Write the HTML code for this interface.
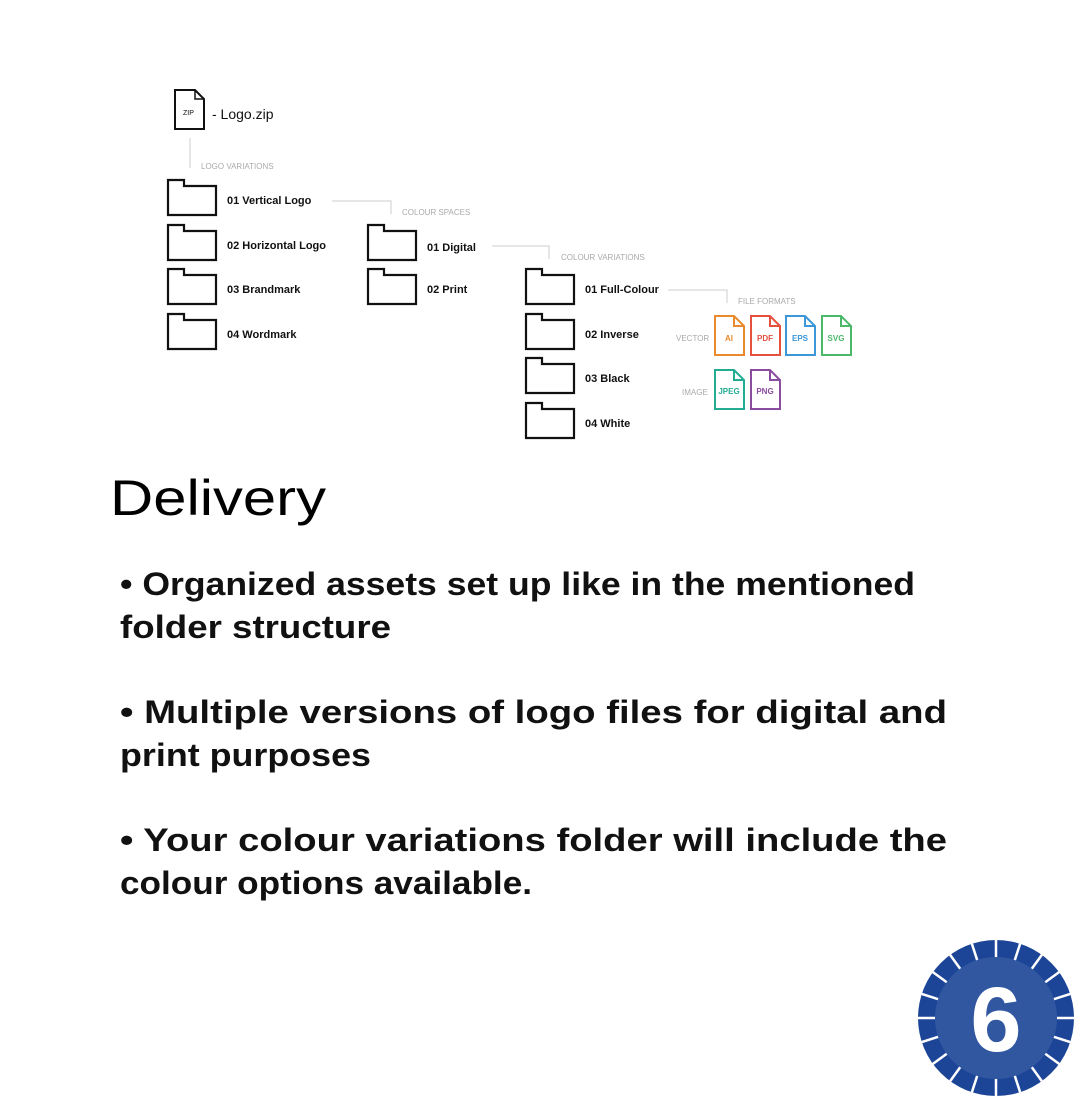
<!DOCTYPE html>
<html><head><meta charset="utf-8"><style>
html,body{margin:0;padding:0;background:#fff;}
svg{display:block}
</style></head><body>
<svg width="1075" height="1097" viewBox="0 0 1075 1097" xmlns="http://www.w3.org/2000/svg" font-family="Liberation Sans, sans-serif">
<defs>
<path id="fold" d="M0,0 H16 V6 H48 V35 H0 Z" fill="#fff" stroke="#111" stroke-width="2.2"/>
</defs>
<path d="M175,90 H195 L204,99 V129 H175 Z" fill="#fff" stroke="#111" stroke-width="2"/>
<path d="M195,90 V99 H204" fill="none" stroke="#111" stroke-width="1.5"/>
<text x="183" y="115" font-size="7" fill="#111">ZIP</text>
<text x="212" y="119" font-size="14" fill="#111">- Logo.zip</text>
<line x1="190" y1="138" x2="190" y2="168" stroke="#ccc" stroke-width="1"/>
<text x="201" y="169" font-size="8" fill="#aaa">LOGO VARIATIONS</text>
<use href="#fold" x="168" y="180"/><use href="#fold" x="168" y="225"/><use href="#fold" x="168" y="269"/><use href="#fold" x="168" y="314"/>
<g font-size="11" font-weight="bold" fill="#111">
<text x="227" y="204">01 Vertical Logo</text>
<text x="227" y="249">02 Horizontal Logo</text>
<text x="227" y="293">03 Brandmark</text>
<text x="227" y="338">04 Wordmark</text>
</g>
<path d="M332,201 H391 V214" fill="none" stroke="#ccc"/>
<text x="402" y="215" font-size="8" fill="#aaa">COLOUR SPACES</text>
<use href="#fold" x="368" y="225"/><use href="#fold" x="368" y="269"/>
<g font-size="11" font-weight="bold" fill="#111">
<text x="427" y="251">01 Digital</text>
<text x="427" y="293">02 Print</text>
</g>
<path d="M492,246 H549 V259" fill="none" stroke="#ccc"/>
<text x="561" y="260" font-size="8" fill="#aaa">COLOUR VARIATIONS</text>
<use href="#fold" x="526" y="269"/><use href="#fold" x="526" y="314"/><use href="#fold" x="526" y="358"/><use href="#fold" x="526" y="403"/>
<g font-size="11" font-weight="bold" fill="#111">
<text x="585" y="293">01 Full-Colour</text>
<text x="585" y="338">02 Inverse</text>
<text x="585" y="382">03 Black</text>
<text x="585" y="427">04 White</text>
</g>
<path d="M668,290 H727 V303" fill="none" stroke="#ccc"/>
<text x="738" y="304" font-size="8" fill="#aaa">FILE FORMATS</text>
<text x="676" y="341" font-size="8" fill="#aaa">VECTOR</text>
<text x="682" y="395" font-size="8" fill="#aaa">IMAGE</text>
<g stroke-width="2" fill="#fff" font-size="8" font-weight="bold" text-anchor="middle">
<g stroke="#e98a2c"><path d="M715,316 H734 L744,326 V355 H715 Z"/><path d="M734,316 V326 H744" fill="none"/></g>
<text x="729" y="341" fill="#e98a2c">AI</text>
<g stroke="#e5503f"><path d="M751,316 H770 L780,326 V355 H751 Z"/><path d="M770,316 V326 H780" fill="none"/></g>
<text x="765" y="341" fill="#e5503f">PDF</text>
<g stroke="#3c97d8"><path d="M786,316 H805 L815,326 V355 H786 Z"/><path d="M805,316 V326 H815" fill="none"/></g>
<text x="800" y="341" fill="#3c97d8">EPS</text>
<g stroke="#4cb86a"><path d="M822,316 H841 L851,326 V355 H822 Z"/><path d="M841,316 V326 H851" fill="none"/></g>
<text x="836" y="341" fill="#4cb86a">SVG</text>
<g stroke="#22ad93"><path d="M715,370 H734 L744,380 V409 H715 Z"/><path d="M734,370 V380 H744" fill="none"/></g>
<text x="729" y="394" fill="#22ad93">JPEG</text>
<g stroke="#8a4c9e"><path d="M751,370 H770 L780,380 V409 H751 Z"/><path d="M770,370 V380 H780" fill="none"/></g>
<text x="765" y="394" fill="#8a4c9e">PNG</text>
</g>
<text x="110" y="515" font-size="50" fill="#000" textLength="216" lengthAdjust="spacingAndGlyphs">Delivery</text>
<g font-size="32" font-weight="bold" fill="#111" lengthAdjust="spacingAndGlyphs">
<text x="120" y="595" textLength="795" lengthAdjust="spacingAndGlyphs">• Organized assets set up like in the mentioned</text>
<text x="120" y="638" textLength="271" lengthAdjust="spacingAndGlyphs">folder structure</text>
<text x="120" y="723" textLength="827" lengthAdjust="spacingAndGlyphs">• Multiple versions of logo files for digital and</text>
<text x="120" y="766" textLength="251" lengthAdjust="spacingAndGlyphs">print purposes</text>
<text x="120" y="851" textLength="827" lengthAdjust="spacingAndGlyphs">• Your colour variations folder will include the</text>
<text x="120" y="894" textLength="412" lengthAdjust="spacingAndGlyphs">colour options available.</text>
</g>
<circle cx="996" cy="1018" r="78" fill="#1c4598"/>
<g stroke="#fff" stroke-width="2.5">
<line x1="996" y1="940" x2="996" y2="958" transform="rotate(0 996 1018)"/>
<line x1="996" y1="940" x2="996" y2="958" transform="rotate(18 996 1018)"/>
<line x1="996" y1="940" x2="996" y2="958" transform="rotate(36 996 1018)"/>
<line x1="996" y1="940" x2="996" y2="958" transform="rotate(54 996 1018)"/>
<line x1="996" y1="940" x2="996" y2="958" transform="rotate(72 996 1018)"/>
<line x1="996" y1="940" x2="996" y2="958" transform="rotate(90 996 1018)"/>
<line x1="996" y1="940" x2="996" y2="958" transform="rotate(108 996 1018)"/>
<line x1="996" y1="940" x2="996" y2="958" transform="rotate(126 996 1018)"/>
<line x1="996" y1="940" x2="996" y2="958" transform="rotate(144 996 1018)"/>
<line x1="996" y1="940" x2="996" y2="958" transform="rotate(162 996 1018)"/>
<line x1="996" y1="940" x2="996" y2="958" transform="rotate(180 996 1018)"/>
<line x1="996" y1="940" x2="996" y2="958" transform="rotate(198 996 1018)"/>
<line x1="996" y1="940" x2="996" y2="958" transform="rotate(216 996 1018)"/>
<line x1="996" y1="940" x2="996" y2="958" transform="rotate(234 996 1018)"/>
<line x1="996" y1="940" x2="996" y2="958" transform="rotate(252 996 1018)"/>
<line x1="996" y1="940" x2="996" y2="958" transform="rotate(270 996 1018)"/>
<line x1="996" y1="940" x2="996" y2="958" transform="rotate(288 996 1018)"/>
<line x1="996" y1="940" x2="996" y2="958" transform="rotate(306 996 1018)"/>
<line x1="996" y1="940" x2="996" y2="958" transform="rotate(324 996 1018)"/>
<line x1="996" y1="940" x2="996" y2="958" transform="rotate(342 996 1018)"/>
</g>
<circle cx="996" cy="1018" r="61" fill="#3157a0"/>
<text x="996" y="1051" font-size="92" font-weight="bold" fill="#fff" text-anchor="middle">6</text>
</svg>
</body></html>
